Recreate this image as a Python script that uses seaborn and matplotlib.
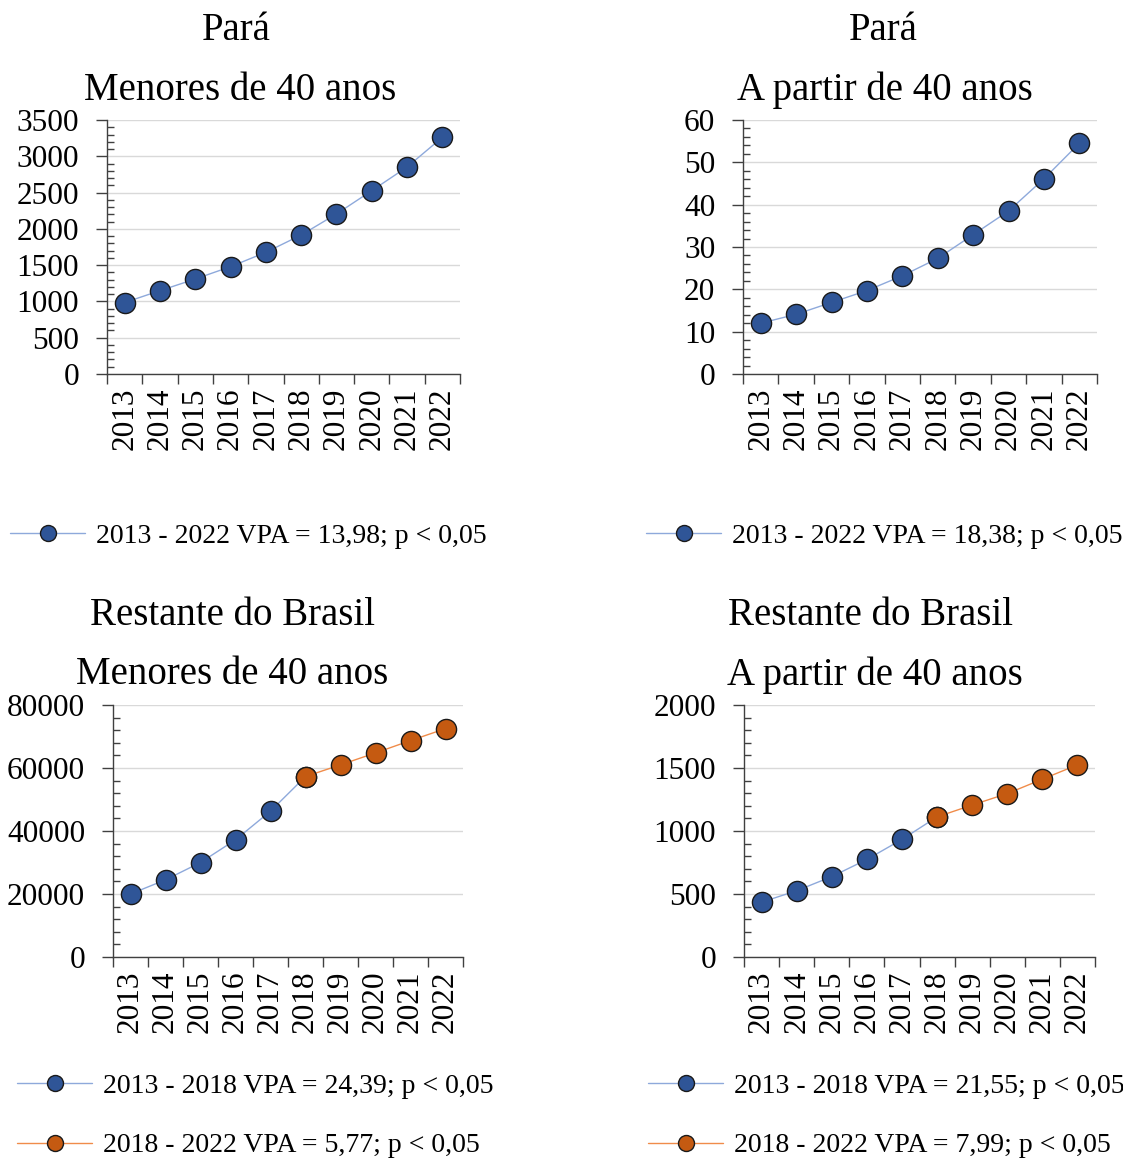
import matplotlib
matplotlib.use("Agg")
import matplotlib.pyplot as plt
from matplotlib.lines import Line2D
from matplotlib.ticker import MultipleLocator, FixedLocator, NullFormatter
import seaborn as sns
import pandas as pd

# ---- data ----
years = ["2013", "2014", "2015", "2016", "2017", "2018", "2019", "2020", "2021", "2022"]

para_menores = [985, 1148, 1309, 1479, 1677, 1915, 2205, 2526, 2852, 3261]
para_40mais = [12.0, 14.1, 16.9, 19.7, 23.2, 27.3, 32.9, 38.5, 46.1, 54.5]
brasil_menores = [20000, 24500, 30000, 37200, 46300, 57300, 61000, 64800, 68700, 72500]
brasil_40mais = [435, 526, 638, 774, 933, 1112, 1206, 1297, 1411, 1525]

region_titles = ["Pará", "Pará", "Restante do Brasil", "Restante do Brasil"]
age_titles = ["Menores de 40 anos", "A partir de 40 anos", "Menores de 40 anos", "A partir de 40 anos"]

legend_single_menores = "2013 - 2022 VPA = 13,98; p < 0,05"
legend_single_40mais = "2013 - 2022 VPA = 18,38; p < 0,05"
legend_br_menores = ["2013 - 2018 VPA = 24,39; p < 0,05", "2018 - 2022 VPA = 5,77; p < 0,05"]
legend_br_40mais = ["2013 - 2018 VPA = 21,55; p < 0,05", "2018 - 2022 VPA = 7,99; p < 0,05"]

y_limits = [(0, 3500, 500, 100), (0, 60, 10, 2), (0, 80000, 20000, 4000), (0, 2000, 500, 100)]

# ---- style ----
sns.set_theme(style="white")
plt.rcParams["font.family"] = ["Liberation Serif", "DejaVu Serif"]
plt.rcParams["axes.unicode_minus"] = False
plt.rcParams["text.color"] = "black"
plt.rcParams["xtick.color"] = "black"
plt.rcParams["ytick.color"] = "black"
plt.rcParams["xtick.labelcolor"] = "black"
plt.rcParams["ytick.labelcolor"] = "black"

BLUE_FILL = "#2F5597"
BLUE_LINE = "#8EA9DB"
ORANGE_FILL = "#C55A11"
ORANGE_LINE = "#F08C4A"
EDGE = "#1a1a1a"
MS = 14.5
TICK_FS = 22.5
TITLE_FS = 28
LEG_FS = 20

W, H = 1123, 1159
fig = plt.figure(figsize=(W / 100, H / 100), dpi=100)


def px_box(left, top, right, bottom):
    return [left / W, 1 - bottom / H, (right - left) / W, (bottom - top) / H]


axes_boxes = [
    px_box(107, 120, 460, 374),
    px_box(743, 120, 1097, 374),
    px_box(113, 705, 463, 957),
    px_box(744, 705, 1095, 957),
]

series = [para_menores, para_40mais, brasil_menores, brasil_40mais]
split_at = [None, None, 5, 5]


def style_axes(ax, lims):
    lo, hi, major, minor = lims
    ax.set_xlim(-0.5, len(years) - 0.5)
    ax.set_ylim(lo, hi)
    ax.yaxis.set_major_locator(MultipleLocator(major))
    ax.yaxis.set_minor_locator(MultipleLocator(minor))
    ax.grid(axis="y", which="major", color="#D9D9D9", linewidth=1.0)
    ax.grid(axis="x", visible=False)
    ax.set_axisbelow(True)
    for s in ["top", "right"]:
        ax.spines[s].set_visible(False)
    for s in ["left", "bottom"]:
        ax.spines[s].set_color("#404040")
        ax.spines[s].set_linewidth(1.0)
    ax.tick_params(axis="y", which="major", direction="out", length=8, width=1,
                   color="#404040", labelsize=TICK_FS, labelcolor="black", pad=12, left=True)
    ax.tick_params(axis="y", which="minor", direction="in", length=5, width=1,
                   color="#404040", left=True)
    # category boundaries carry the tick marks, centres carry the labels
    ax.xaxis.set_major_locator(FixedLocator([i - 0.5 for i in range(len(years) + 1)]))
    ax.xaxis.set_major_formatter(NullFormatter())
    ax.set_xticks(list(range(len(years))), minor=True)
    ax.set_xticklabels(years, minor=True, rotation=90, fontsize=TICK_FS, color="black")
    ax.tick_params(axis="x", which="major", direction="out", length=7, width=1,
                   color="#404040", bottom=True)
    ax.tick_params(axis="x", which="minor", length=0, pad=10)
    ax.set_xlabel("")
    ax.set_ylabel("")


for k, (box, vals, lims) in enumerate(zip(axes_boxes, series, y_limits)):
    ax = fig.add_axes(box)
    df = pd.DataFrame({"pos": list(range(len(years))), "valor": vals})
    s = split_at[k]
    if s is None:
        sns.lineplot(data=df, x="pos", y="valor", ax=ax, color=BLUE_LINE, linewidth=1.0,
                     marker="o", markersize=MS, markerfacecolor=BLUE_FILL,
                     markeredgecolor=EDGE, markeredgewidth=1.0, zorder=3)
    else:
        first = df.iloc[: s + 1]
        second = df.iloc[s:]
        sns.lineplot(data=first, x="pos", y="valor", ax=ax, color=BLUE_LINE, linewidth=1.0,
                     marker="o", markersize=MS, markerfacecolor=BLUE_FILL,
                     markeredgecolor=EDGE, markeredgewidth=1.0, zorder=3)
        sns.lineplot(data=second, x="pos", y="valor", ax=ax, color=ORANGE_LINE, linewidth=1.0,
                     marker="o", markersize=MS, markerfacecolor=ORANGE_FILL,
                     markeredgecolor=EDGE, markeredgewidth=1.0, zorder=4)
    style_axes(ax, lims)

# ---- titles ----
title_pos = [(236, 31, 240, 90), (883, 31, 885, 90), (232, 615, 232, 675), (870, 615, 875, 675)]
for (x1, y1, x2, y2), reg, age in zip(title_pos, region_titles, age_titles):
    fig.text(x1 / W, 1 - y1 / H, reg, ha="center", va="center", fontsize=TITLE_FS, color="black")
    fig.text(x2 / W, 1 - y2 / H, age, ha="center", va="center", fontsize=TITLE_FS, color="black")


# ---- legends ----
def handle(line_c, fill_c):
    return Line2D([0], [0], color=line_c, linewidth=1.0, marker="o", markersize=11.5,
                  markerfacecolor=fill_c, markeredgecolor=EDGE, markeredgewidth=1.0)


def place_legend(handles, labels, x, y):
    leg = fig.legend(handles, labels, loc="center left", bbox_to_anchor=(x / W, 1 - y / H),
                     frameon=False, fontsize=LEG_FS, handlelength=2.7, handletextpad=0.4,
                     borderpad=0, borderaxespad=0, labelspacing=1.22)
    for t in leg.get_texts():
        t.set_color("black")


place_legend([handle(BLUE_LINE, BLUE_FILL)], [legend_single_menores], 10, 536)
place_legend([handle(BLUE_LINE, BLUE_FILL)], [legend_single_40mais], 646, 536)
place_legend([handle(BLUE_LINE, BLUE_FILL), handle(ORANGE_LINE, ORANGE_FILL)],
             legend_br_menores, 17, 1116)
place_legend([handle(BLUE_LINE, BLUE_FILL), handle(ORANGE_LINE, ORANGE_FILL)],
             legend_br_40mais, 648, 1116)

fig.savefig("out.png", dpi=100, facecolor="white")
